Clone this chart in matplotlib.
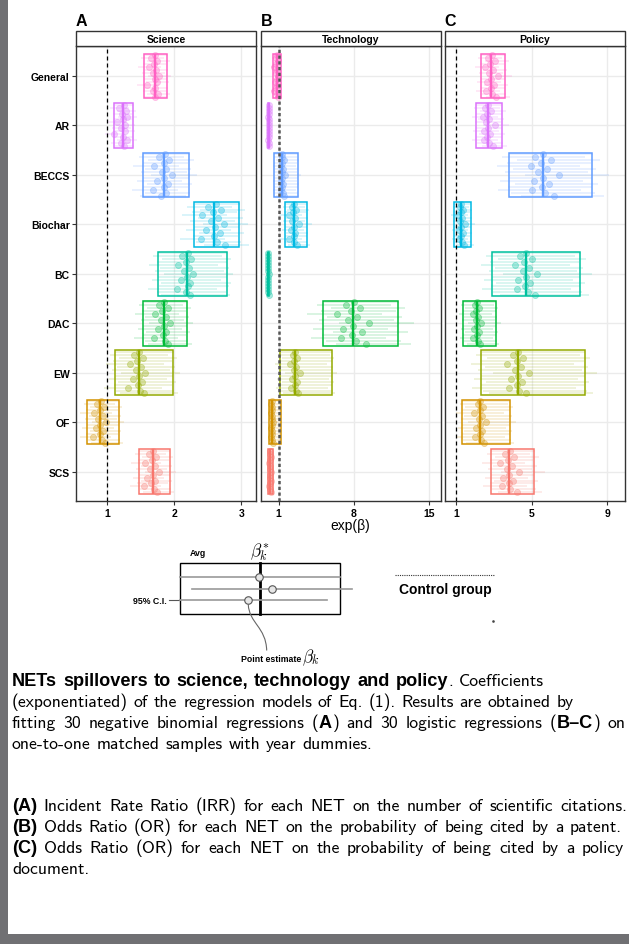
import numpy as np
import matplotlib
matplotlib.use("Agg")
import matplotlib.pyplot as plt
from matplotlib.patches import Rectangle, PathPatch
from matplotlib.path import Path

# ---------------------------------------------------------------- data
nets = ["General", "AR", "BECCS", "Biochar", "BC", "DAC", "EW", "OF", "SCS"]
net_colors = ["#FF61C3", "#DB72FB", "#619CFF", "#00B9E3", "#00C19F",
              "#00BA38", "#93AA00", "#D39200", "#F8766D"]

panel_titles = ["Science", "Technology", "Policy"]
panel_tags = ["A", "B", "C"]

# (A) Science: IRR, average estimate and averaged 95% CI per NET
science_avg = [1.71, 1.24, 1.85, 2.60, 2.19, 1.84, 1.47, 0.90, 1.68]
science_lo = [1.55, 1.10, 1.54, 2.29, 1.76, 1.54, 1.11, 0.70, 1.47]
science_hi = [1.89, 1.39, 2.22, 2.96, 2.79, 2.19, 1.98, 1.17, 1.93]
science_est = [
    [1.72, 1.66, 1.75, 1.70, 1.62, 1.73, 1.68, 1.77, 1.71, 1.74, 1.60, 1.72, 1.69, 1.76, 1.71],
    [1.25, 1.18, 1.28, 1.22, 1.30, 1.24, 1.15, 1.27, 1.21, 1.26, 1.10, 1.24, 1.29, 1.20, 1.25],
    [1.86, 1.78, 1.92, 1.84, 1.70, 1.88, 1.82, 1.97, 1.85, 1.75, 1.90, 1.84, 1.68, 1.87, 1.80],
    [2.62, 2.50, 2.70, 2.58, 2.42, 2.66, 2.55, 2.74, 2.61, 2.48, 2.68, 2.59, 2.40, 2.64, 2.76],
    [2.20, 2.12, 2.25, 2.18, 2.06, 2.22, 2.15, 2.28, 2.19, 2.10, 2.24, 2.21, 2.04, 2.17, 2.23],
    [1.85, 1.78, 1.90, 1.82, 1.72, 1.87, 1.80, 1.93, 1.84, 1.76, 1.88, 1.83, 1.70, 1.86, 1.91],
    [1.48, 1.40, 1.53, 1.45, 1.34, 1.50, 1.43, 1.57, 1.47, 1.38, 1.52, 1.46, 1.31, 1.49, 1.55],
    [0.91, 0.85, 0.95, 0.89, 0.80, 0.93, 0.87, 0.98, 0.90, 0.83, 0.94, 0.89, 0.79, 0.92, 0.96],
    [1.69, 1.62, 1.73, 1.67, 1.56, 1.71, 1.64, 1.77, 1.68, 1.60, 1.72, 1.66, 1.55, 1.70, 1.75],
]

# (B) Technology: OR of being cited by a patent
tech_avg = [0.80, 0.07, 1.34, 2.40, 0.03, 7.90, 2.50, 0.38, 0.20]
tech_lo = [0.50, 0.03, 0.59, 1.56, 0.01, 5.14, 1.12, 0.12, 0.00]
tech_hi = [1.19, 0.11, 2.77, 3.61, 0.05, 12.11, 5.98, 1.24, 0.45]
tech_est = [
    [0.82, 0.70, 0.90, 0.78, 0.55, 0.86, 0.74, 0.96, 0.80, 0.66, 0.88, 0.79, 0.60, 0.84, 0.92],
    [0.07, 0.05, 0.09, 0.06, 0.04, 0.08, 0.06, 0.10, 0.07, 0.05, 0.09, 0.07, 0.04, 0.08, 0.10],
    [1.35, 1.27, 1.45, 1.32, 1.22, 1.40, 1.30, 1.62, 1.34, 1.25, 1.42, 1.33, 1.21, 1.38, 1.50],
    [2.42, 2.20, 2.60, 2.35, 1.95, 2.52, 2.28, 2.90, 2.40, 2.10, 2.56, 2.38, 2.00, 2.47, 2.70],
    [0.03, 0.02, 0.04, 0.03, 0.01, 0.04, 0.02, 0.05, 0.03, 0.02, 0.04, 0.03, 0.01, 0.04, 0.05],
    [8.0, 7.3, 8.6, 7.7, 6.4, 8.3, 7.5, 9.4, 7.9, 7.0, 8.8, 7.8, 6.8, 8.2, 9.1],
    [2.52, 2.30, 2.70, 2.45, 2.05, 2.62, 2.38, 2.95, 2.50, 2.20, 2.66, 2.48, 2.10, 2.57, 2.80],
    [0.36, 0.31, 0.42, 0.34, 0.28, 0.39, 0.33, 0.47, 0.35, 0.30, 0.40, 0.36, 0.29, 0.38, 0.44],
    [0.20, 0.16, 0.25, 0.19, 0.12, 0.23, 0.18, 0.28, 0.20, 0.15, 0.24, 0.21, 0.13, 0.22, 0.26],
]

# (C) Policy: OR of being cited by a policy document
policy_avg = [2.86, 2.67, 5.59, 1.28, 4.68, 2.10, 4.26, 2.28, 3.81]
policy_lo = [2.32, 2.07, 3.81, 0.91, 2.88, 1.38, 2.33, 1.33, 2.84]
policy_hi = [3.60, 3.44, 8.21, 1.77, 7.56, 3.12, 7.81, 3.86, 5.14]
policy_est = [
    [2.88, 2.70, 3.05, 2.82, 2.55, 2.96, 2.76, 3.20, 2.86, 2.64, 3.00, 2.84, 2.58, 2.92, 3.12],
    [2.68, 2.55, 2.85, 2.64, 2.45, 2.76, 2.60, 3.05, 2.67, 2.50, 2.80, 2.66, 2.47, 2.72, 2.95],
    [5.62, 5.20, 6.00, 5.50, 4.95, 5.80, 5.35, 6.45, 5.59, 5.10, 5.90, 5.55, 5.00, 5.70, 6.20],
    [1.29, 1.20, 1.38, 1.26, 1.13, 1.34, 1.23, 1.50, 1.28, 1.17, 1.36, 1.27, 1.14, 1.31, 1.44],
    [4.70, 4.40, 5.00, 4.62, 4.12, 4.85, 4.52, 5.30, 4.68, 4.30, 4.92, 4.66, 4.20, 4.78, 5.15],
    [2.11, 2.00, 2.22, 2.08, 1.89, 2.17, 2.04, 2.34, 2.10, 1.96, 2.20, 2.09, 1.92, 2.14, 2.28],
    [4.28, 4.00, 4.55, 4.20, 3.70, 4.45, 4.10, 4.88, 4.26, 3.90, 4.50, 4.24, 3.80, 4.35, 4.70],
    [2.29, 2.15, 2.42, 2.25, 1.96, 2.36, 2.20, 2.57, 2.28, 2.08, 2.40, 2.27, 2.02, 2.32, 2.50],
    [3.83, 3.60, 4.05, 3.76, 3.34, 3.95, 3.68, 4.35, 3.81, 3.50, 4.00, 3.79, 3.42, 3.88, 4.20],
]

x_limits = [(0.53, 3.22), (-0.68, 16.1), (0.405, 9.93)]
x_ticks = [[1, 2, 3], [1, 8, 15], [1, 5, 9]]

panel_data = [
    (science_avg, science_lo, science_hi, science_est),
    (tech_avg, tech_lo, tech_hi, tech_est),
    (policy_avg, policy_lo, policy_hi, policy_est),
]

# ---------------------------------------------------------------- layout
W, H = 629, 945
fig = plt.figure(figsize=(W / 100, H / 100), dpi=100)
fig.patch.set_facecolor("white")

LAB = "Liberation Sans"
panel_px = [(75.7, 256.0), (260.7, 440.7), (444.7, 625.0)]
top_px, bot_px, strip_top = 47.3, 502.3, 31.7
box_half = 0.45

for i in range(3):
    left, right = panel_px[i]
    ax = fig.add_axes([left / W, 1 - bot_px / H, (right - left) / W,
                       (bot_px - top_px) / H])
    avg, lo, hi, est_all = panel_data[i]
    ax.set_xlim(*x_limits[i])
    ax.set_ylim(9.6, 0.4)
    ax.set_xticks(x_ticks[i])
    ax.set_xticklabels([str(t) for t in x_ticks[i]], fontfamily=LAB,
                       fontweight="bold", fontsize=7.5)
    ax.set_yticks(range(1, len(nets) + 1))
    if i == 0:
        ax.set_yticklabels(nets, fontfamily=LAB, fontweight="bold", fontsize=7.5)
        ax.tick_params(axis="y", length=2.8, width=0.8, color="#333333", pad=1.5)
    else:
        ax.set_yticklabels([])
        ax.tick_params(axis="y", length=0)
    ax.tick_params(axis="x", length=2.8, width=0.8, color="#333333", pad=2)
    ax.grid(True, color="#EBEBEB", lw=1.0)
    ax.set_axisbelow(True)
    for sp in ax.spines.values():
        sp.set_color("#333333")
        sp.set_linewidth(1.0)

    for k in range(len(nets)):
        c = net_colors[k]
        y0 = k + 1
        est = np.asarray(est_all[k])
        rows = y0 + np.linspace(-0.42, 0.42, len(est))
        lo_off = avg[k] - lo[k]
        hi_off = hi[k] - avg[k]
        ax.hlines(rows, est - lo_off, est + hi_off, color=c, alpha=0.16,
                  lw=1.3, zorder=2)
        ax.plot(est, rows, "o", ms=4.4, mfc=c, mec=c, mew=0.6, alpha=0.33,
                ls="none", zorder=3)
        ax.add_patch(Rectangle((lo[k], y0 - box_half), hi[k] - lo[k],
                               2 * box_half, fill=False, ec=c, lw=1.1, zorder=4))
        ax.vlines(avg[k], y0 - box_half, y0 + box_half, color=c, lw=1.7, zorder=4)

    if i == 1:
        ax.axvline(1, color="#555555", lw=1.8, ls=(0, (1.3, 1.0)), zorder=5)
    else:
        ax.axvline(1, color="black", lw=0.9, ls=(0, (3.2, 2.4)), zorder=5)

# overlay in pixel coordinates for strips, labels, key and caption
ov = fig.add_axes([0, 0, 1, 1])
ov.set_xlim(0, W)
ov.set_ylim(H, 0)
ov.axis("off")

for i in range(3):
    left, right = panel_px[i]
    ov.add_patch(Rectangle((left, strip_top), right - left, top_px - strip_top,
                           fc="white", ec="#333333", lw=1.0, zorder=5))
    ov.text((left + right) / 2, (strip_top + top_px) / 2 + 0.5, panel_titles[i],
            ha="center", va="center", fontfamily=LAB, fontweight="bold",
            fontsize=7.5, zorder=6)
    ov.text(left, 22, panel_tags[i], ha="left", va="center", fontfamily=LAB,
            fontweight="bold", fontsize=11.5)

ov.text(350, 526, "exp(β)", ha="center", va="center", fontfamily=LAB, fontsize=10)

# ---------------------------------------------------------------- key
plt.rcParams["mathtext.fontset"] = "cm"
key_left, key_right, key_top, key_bot, key_avg = 180, 340, 564.3, 615.3, 260
ov.add_patch(Rectangle((key_left, key_top), key_right - key_left, key_bot - key_top,
                       fill=False, ec="black", lw=1.0))
ov.plot([key_avg, key_avg], [key_top, key_bot], color="black", lw=2.0)
key_rows = [577.7, 590.0, 601.0]
key_spans = [(180, 340), (192.3, 351.7), (180, 327.3)]
key_points = [259.0, 272.3, 248.3]
for yk, (a, b), p in zip(key_rows, key_spans, key_points):
    ov.plot([a, b], [yk, yk], color="#999999", lw=1.2, zorder=3)
    ov.plot([p], [yk], "o", ms=5.4, mfc="#E6E6E6", mec="#555555", mew=0.8, zorder=4)
ov.plot([168.5, 180], [601.0, 601.0], color="#555555", lw=0.8)
ov.text(166.5, 601.5, "95% C.I.", ha="right", va="center", fontfamily=LAB,
        fontweight="bold", fontsize=6.3)
ov.text(198.3, 554, "Avg", ha="center", va="center", fontfamily=LAB,
        fontweight="bold", fontsize=6.3)
ov.text(260, 552, r"$\beta_k^{*}$", ha="center", va="center", fontsize=12.5)
curve = Path([(248.3, 605.5), (249.0, 624.0), (266.0, 628.0), (266.7, 651.5)],
             [Path.MOVETO, Path.CURVE4, Path.CURVE4, Path.CURVE4])
ov.add_patch(PathPatch(curve, fill=False, ec="#666666", lw=0.8))
ov.text(301, 659, "Point estimate", ha="right", va="center", fontfamily=LAB,
        fontweight="bold", fontsize=6.3)
ov.text(302, 657.5, r"$\beta_k$", ha="left", va="center", fontsize=12.5)

ov.plot([395, 495], [575.7, 575.7], color="#333333", lw=0.8, ls=(0, (1, 1)))
ov.text(445, 590, "Control group", ha="center", va="center", fontfamily=LAB,
        fontweight="bold", fontsize=10)
ov.plot([493.3], [621.7], "s", ms=0.8, color="#444444")

# ---------------------------------------------------------------- caption
CAP_SIZE = 12.7
BOLD_SIZE = 13.1
REG = ["cmss10", "DejaVu Sans"]
BOLD = [LAB, "DejaVu Sans"]
renderer = fig.canvas.get_renderer()


def text_width(s, fam, weight, size):
    t = ov.text(0, 0, s, fontfamily=fam, fontweight=weight, fontsize=size)
    w = t.get_window_extent(renderer).width
    t.remove()
    return w


space_w = (text_width("x x", REG, "normal", CAP_SIZE)
           - text_width("xx", REG, "normal", CAP_SIZE))


def words_of(runs):
    """Split runs into words; each word is a list of (text, bold) pieces."""
    words, cur = [], []
    for s, bold in runs:
        parts = s.split(" ")
        for j, p in enumerate(parts):
            if j > 0:
                words.append(cur)
                cur = []
            if p:
                cur.append((p, bold))
    words.append(cur)
    return [w for w in words if w]


def piece_style(bold):
    return (BOLD, "bold", BOLD_SIZE) if bold else (REG, "normal", CAP_SIZE)


def draw_line(y, runs, right=None, x0=12.0):
    words = words_of(runs)
    widths = []
    for w in words:
        widths.append(sum(text_width(p, *piece_style(b)) for p, b in w))
    gap = space_w
    if right is not None and len(words) > 1:
        natural = sum(widths) + space_w * (len(words) - 1)
        gap = space_w + max(0.0, (right - x0) - natural) / (len(words) - 1)
    x = x0
    for w, wd in zip(words, widths):
        xx = x
        for p, b in w:
            fam, wt, sz = piece_style(b)
            ov.text(xx, y, p, fontfamily=fam, fontweight=wt, fontsize=sz,
                    va="baseline", ha="left")
            xx += text_width(p, fam, wt, sz)
        x += wd + gap


caption_lines = [
    (686, None, [("NETs spillovers to science, technology and policy", True),
                 (". Coefficients", False)]),
    (707, None, [("(exponentiated) of the regression models of Eq. (1). Results are obtained by", False)]),
    (728, 625, [("fitting 30 negative binomial regressions (", False), ("A", True),
                (") and 30 logistic regressions (", False), ("B–C", True), (") on", False)]),
    (749, None, [("one-to-one matched samples with year dummies.", False)]),
    (811, 627, [("(A)", True),
                (" Incident Rate Ratio (IRR) for each NET on the number of scientific citations.", False)]),
    (832, 622, [("(B)", True),
                (" Odds Ratio (OR) for each NET on the probability of being cited by a patent.", False)]),
    (853, 624, [("(C)", True),
                (" Odds Ratio (OR) for each NET on the probability of being cited by a policy", False)]),
    (874, None, [("document.", False)]),
]
for y, right, runs in caption_lines:
    draw_line(y, runs, right)

# page frame
ov.add_patch(Rectangle((0, 0), 7.5, H, fc="#707073", ec="none", zorder=10))
ov.add_patch(Rectangle((0, 935), W, 10, fc="#707073", ec="none", zorder=10))

fig.savefig("out.png", dpi=100, facecolor="white")
